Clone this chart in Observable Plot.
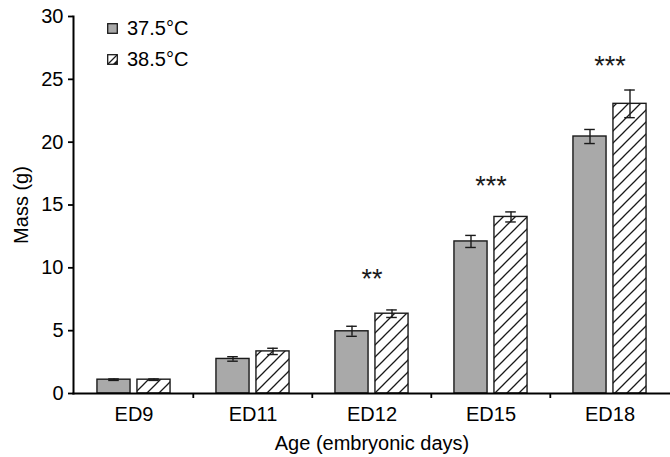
<!DOCTYPE html>
<html>
<head>
<meta charset="utf-8">
<script src="https://cdn.jsdelivr.net/npm/d3@7"></script>
<script src="https://cdn.jsdelivr.net/npm/@observablehq/plot@0.6"></script>
<style>
  html, body { margin: 0; padding: 0; background: #fff; }
  #wrap { position: relative; width: 670px; height: 457px; font-family: "Liberation Sans", Arial, Helvetica, sans-serif; }
  #legend { position: absolute; left: 107px; top: 13px; font-size: 20px; line-height: 31px; color: #000; }
  #legend .row { display: flex; align-items: center; height: 31px; }
  #legend svg { margin-right: 9px; }
</style>
</head>
<body>
<div id="wrap">
  <div id="chart"></div>
  <div id="legend"></div>
</div>
<script>
// ---- data ----
const ages = ["ED9", "ED11", "ED12", "ED15", "ED18"];
const series = ["37.5°C", "38.5°C"];
const mean375 = [1.1, 2.75, 4.95, 12.1, 20.45];
const err375  = [0.06, 0.18, 0.4, 0.48, 0.56];
const mean385 = [1.1, 3.35, 6.35, 14.05, 23.05];
const err385  = [0.06, 0.25, 0.3, 0.4, 1.1];
const stars   = ["", "", "**", "***", "***"];
const starY   = [null, null, 9.35, 16.7, 26.25];
const yTicks  = [0, 5, 10, 15, 20, 25, 30];

// ---- layout / style constants ----
const W = 670, H = 457, mL = 73, mR = 0, mT = 16, mB = 64;
const step = (W - mL - mR) / ages.length;
const barW = 33.5, gap = 6.5, capW = 11;
const off = gap / 2 + barW / 2;           // bar centre offset from group centre
const gray = "#a9a9a9", ink = "#1a1a1a";

const rowsA = ages.map((age, i) => ({age, mean: mean375[i], err: err375[i]}));
const rowsB = ages.map((age, i) => ({age, mean: mean385[i], err: err385[i]}));
const starRows = ages.map((age, i) => ({age, s: stars[i], y: starY[i]})).filter(d => d.s);

function errMarks(rows, dx) {
  const caps = {insetLeft: step / 2 + dx - capW / 2, insetRight: step / 2 - dx - capW / 2, stroke: ink, strokeWidth: 1.4};
  return [
    Plot.ruleX(rows, {x: "age", y1: d => d.mean - d.err, y2: d => d.mean + d.err, dx, stroke: ink, strokeWidth: 1.4}),
    Plot.tickY(rows, {x: "age", y: d => d.mean + d.err, ...caps}),
    Plot.tickY(rows, {x: "age", y: d => d.mean - d.err, ...caps})
  ];
}

const chart = Plot.plot({
  width: W, height: H,
  marginLeft: mL, marginRight: mR, marginTop: mT, marginBottom: mB,
  style: {fontFamily: "'Liberation Sans', Arial, Helvetica, sans-serif", fontSize: "20px", color: "#000", background: "transparent"},
  x: {domain: ages, padding: 0, axis: null},
  y: {domain: [0, 30], axis: null},
  marks: [
    Plot.barY(rowsA, {x: "age", y: "mean", fill: gray, stroke: ink, strokeWidth: 1.4,
      insetLeft: step / 2 - gap / 2 - barW, insetRight: step / 2 + gap / 2}),
    Plot.barY(rowsB, {x: "age", y: "mean", fill: "url(#hatch)", stroke: ink, strokeWidth: 1.4,
      insetLeft: step / 2 + gap / 2, insetRight: step / 2 - gap / 2 - barW}),
    ...errMarks(rowsA, -off),
    ...errMarks(rowsB, off),
    Plot.text(starRows, {x: "age", y: "y", text: "s", dy: 3, fontSize: 27, fill: ink}),
    Plot.frame({anchor: "left", stroke: "#000", strokeWidth: 2}),
    Plot.frame({anchor: "bottom", stroke: "#000", strokeWidth: 2}),
    Plot.ruleX(ages.slice(1), {x: d => d, y1: 0, y2: 0, dx: -step / 2, insetBottom: -5, stroke: "#000", strokeWidth: 1.8}),
    Plot.axisY({ticks: yTicks, tickSize: 5, tickPadding: 5, fontSize: 20, strokeWidth: 1.8,
      label: "Mass (g)", labelAnchor: "center", labelArrow: "none", labelOffset: 60}),
    Plot.axisX({tickSize: 0, tickPadding: 13, fontSize: 20,
      label: "Age (embryonic days)", labelAnchor: "center", labelArrow: "none", labelOffset: 56})
  ]
});

// hatch pattern
const svgSel = d3.select(chart);
const defs = svgSel.insert("defs", ":first-child");
const pat = defs.append("pattern").attr("id", "hatch").attr("patternUnits", "userSpaceOnUse")
  .attr("width", 12).attr("height", 12);
pat.append("rect").attr("width", 12).attr("height", 12).attr("fill", "#fff");
pat.append("path").attr("d", "M0,12 L12,0 M-3,3 L3,-3 M9,15 L15,9").attr("stroke", ink).attr("stroke-width", 1.3);

document.getElementById("chart").appendChild(chart);

// legend
const legend = d3.select("#legend");
series.forEach((name, i) => {
  const row = legend.append("div").attr("class", "row");
  const s = row.append("svg").attr("width", 11).attr("height", 11);
  if (i === 0) {
    s.append("rect").attr("x", 0.7).attr("y", 0.7).attr("width", 9.6).attr("height", 9.6)
      .attr("fill", gray).attr("stroke", ink).attr("stroke-width", 1.3);
  } else {
    s.append("rect").attr("x", 0.7).attr("y", 0.7).attr("width", 9.6).attr("height", 9.6)
      .attr("fill", "#fff").attr("stroke", ink).attr("stroke-width", 1.3);
    s.append("path").attr("d", "M1,10 L10,1").attr("stroke", ink).attr("stroke-width", 1.2);
    s.append("path").attr("d", "M10,6 L10,10 L6,10 Z").attr("fill", ink);
  }
  row.append("span").text(name);
});
</script>
</body>
</html>
